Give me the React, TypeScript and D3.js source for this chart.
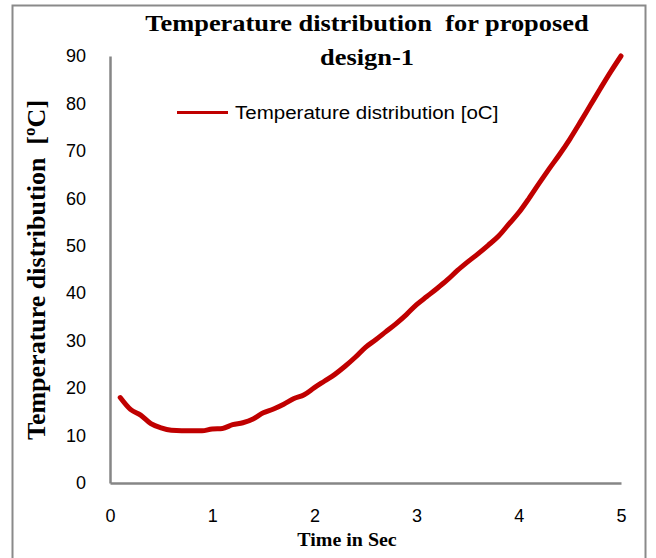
import React, { useEffect, useRef } from "react";
import * as d3 from "d3";

const timeSec = [
  0.1, 0.2, 0.3, 0.4, 0.5, 0.6, 0.7, 0.8, 0.9, 1.0,
  1.1, 1.2, 1.3, 1.4, 1.5, 1.6, 1.7, 1.8, 1.9, 2.0,
  2.1, 2.2, 2.3, 2.4, 2.5, 2.6, 2.7, 2.8, 2.9, 3.0,
  3.1, 3.2, 3.3, 3.4, 3.5, 3.6, 3.7, 3.8, 3.9, 4.0,
  4.1, 4.2, 4.3, 4.4, 4.5, 4.6, 4.7, 4.8, 4.9, 5.0,
];
const temperature = [
  18.0, 15.5, 14.3, 12.5, 11.6, 11.1, 11.0, 11.0, 11.0, 11.4,
  11.5, 12.3, 12.7, 13.5, 14.8, 15.6, 16.6, 17.8, 18.6, 20.1,
  21.5, 22.9, 24.6, 26.5, 28.6, 30.2, 31.9, 33.6, 35.5, 37.6,
  39.3, 41.0, 42.8, 44.8, 46.6, 48.3, 50.1, 52.0, 54.5, 57.0,
  60.0, 63.2, 66.3, 69.3, 72.5, 76.0, 79.6, 83.2, 86.7, 90.0,
];
const xTicks = [0, 1, 2, 3, 4, 5];
const yTicks = [0, 10, 20, 30, 40, 50, 60, 70, 80, 90];
const titleLines = ["Temperature distribution  for proposed", "design-1"];
const seriesName = "Temperature distribution [oC]";
const yTitle = "Temperature distribution  [ºC]";
const xTitle = "Time in Sec";

const W = 656;
const H = 558;

export default function App() {
  const svgRef = useRef<SVGSVGElement>(null);

  useEffect(() => {
    if (!svgRef.current) return;
    document.body.style.margin = "0";
    const svg = d3.select(svgRef.current);
    svg.selectAll("*").remove();

    const left = 110;
    const right = 621;
    const top = 56;
    const bottom = 483;

    const x = d3.scaleLinear().domain([0, 5]).range([left, right]);
    const y = d3.scaleLinear().domain([0, 90]).range([bottom, top]);

    svg.append("rect").attr("width", W).attr("height", H).attr("fill", "#fff");

    // outer chart border
    svg
      .append("rect")
      .attr("x", 12.5)
      .attr("y", 5.5)
      .attr("width", 633)
      .attr("height", H)
      .attr("fill", "none")
      .attr("stroke", "#8a8a8a")
      .attr("stroke-width", 2);

    const sans = "'Liberation Sans', Arial, sans-serif";
    const serif = "'Liberation Serif', 'Times New Roman', serif";

    // axes
    const yAxis = svg
      .append("g")
      .attr("transform", `translate(${left},0)`)
      .call(d3.axisLeft(y).tickValues(yTicks).tickSize(0).tickPadding(24));
    const xAxis = svg
      .append("g")
      .attr("transform", `translate(0,${bottom})`)
      .call(
        d3
          .axisBottom(x)
          .tickValues(xTicks)
          .tickSize(0)
          .tickPadding(26)
          .tickFormat(d3.format("d")),
      );

    [yAxis, xAxis].forEach((a) => {
      a.select(".domain").attr("stroke", "#868686").attr("stroke-width", 2.5);
      a.selectAll("text")
        .attr("fill", "#000")
        .style("font-family", sans)
        .style("font-size", "18px");
    });

    // series
    const pts = timeSec.map((t, i) => [t, temperature[i]] as [number, number]);
    const line = d3
      .line<[number, number]>()
      .x((d) => x(d[0]))
      .y((d) => y(d[1]))
      .curve(d3.curveMonotoneX);
    svg
      .append("path")
      .datum(pts)
      .attr("fill", "none")
      .attr("stroke", "#c00000")
      .attr("stroke-width", 5)
      .attr("stroke-linecap", "round")
      .attr("stroke-linejoin", "round")
      .attr("d", line);

    // title
    titleLines.forEach((t, i) => {
      svg
        .append("text")
        .attr("transform", `translate(367,${31 + i * 34}) scale(1.1,1)`)
        .attr("text-anchor", "middle")
        .style("font-family", serif)
        .style("font-weight", "bold")
        .style("font-size", "24px")
        .style("white-space", "pre")
        .text(t);
    });

    // legend
    svg
      .append("line")
      .attr("x1", 177)
      .attr("x2", 228)
      .attr("y1", 112.5)
      .attr("y2", 112.5)
      .attr("stroke", "#c00000")
      .attr("stroke-width", 3);
    svg
      .append("text")
      .attr("transform", "translate(235,119) scale(1.08,1)")
      .style("font-family", sans)
      .style("font-size", "19px")
      .text(seriesName);

    // axis titles
    svg
      .append("text")
      .attr("transform", `translate(45,270) rotate(-90)`)
      .attr("text-anchor", "middle")
      .style("font-family", serif)
      .style("font-weight", "bold")
      .style("font-size", "26px")
      .style("white-space", "pre")
      .text(yTitle);
    svg
      .append("text")
      .attr("transform", "translate(347,546) scale(1.05,1)")
      .attr("text-anchor", "middle")
      .style("font-family", serif)
      .style("font-weight", "bold")
      .style("font-size", "19px")
      .text(xTitle);
  }, []);

  return <svg ref={svgRef} width={W} height={H} style={{ display: "block" }} />;
}
